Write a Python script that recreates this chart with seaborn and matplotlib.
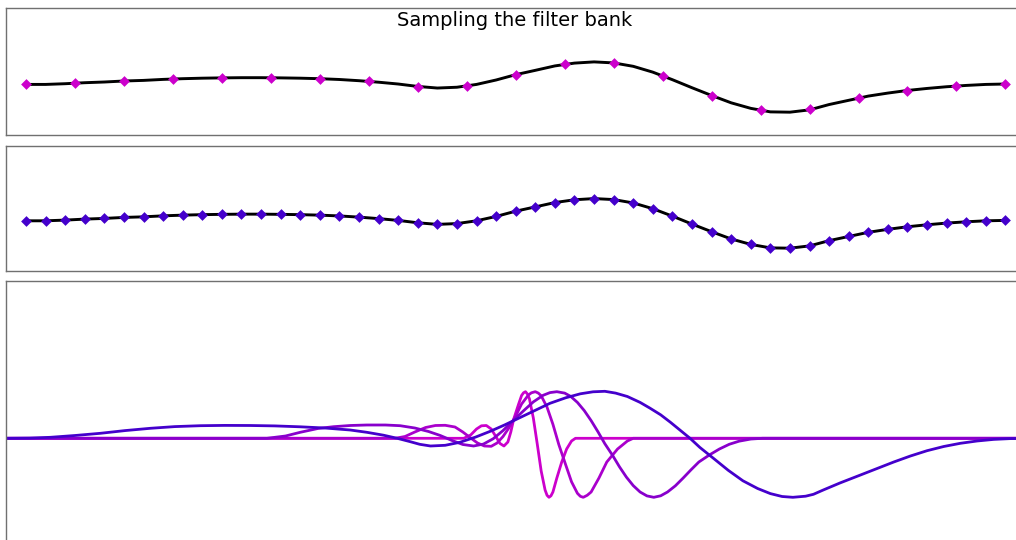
import matplotlib
matplotlib.use('Agg')
import matplotlib.pyplot as plt
import seaborn as sns
import numpy as np

# signal sampled at 51 points (middle panel) and 21 points (top panel)
signal_x = np.linspace(0, 1, 51)
signal_y = [-0.004, -0.004, 0.010, 0.030, 0.044, 0.064, 0.076, 0.096, 0.110, 0.120,
            0.126, 0.130, 0.130, 0.126, 0.120, 0.110, 0.094, 0.070, 0.040, 0.004,
            -0.044, -0.076, -0.060, -0.004, 0.084, 0.190, 0.276, 0.364, 0.420, 0.444,
            0.424, 0.356, 0.240, 0.090, -0.070, -0.224, -0.370, -0.480, -0.550, -0.556,
            -0.510, -0.404, -0.320, -0.236, -0.176, -0.124, -0.084, -0.050, -0.024, -0.004,
            0.004]

coarse_x = np.linspace(0, 1, 21)
coarse_y = [0.004, 0.018, 0.064, 0.104, 0.130, 0.130, 0.104, 0.064, -0.056, -0.036,
            0.178, 0.398, 0.430, 0.158, -0.230, -0.516, -0.496, -0.282, -0.130, -0.030,
            0.004]

# filter bank, narrowest to widest
f1_x = [-0.03, 0.438, 0.447, 0.454, 0.460, 0.465, 0.470, 0.475, 0.480, 0.484, 0.488,
        0.492, 0.495, 0.498, 0.503, 0.506, 0.508, 0.510, 0.512, 0.514, 0.518, 0.522,
        0.526, 0.530, 0.532, 0.534, 0.536, 0.538, 0.542, 0.547, 0.552, 0.557, 0.561, 1.03]
f1_y = [0.0, 0.0, 0.0, 0.066, 0.186, 0.250, 0.256, 0.186, 0.026, -0.104, -0.154,
        -0.074, 0.126, 0.386, 0.686, 0.856, 0.910, 0.932, 0.885, 0.790, 0.406, -0.114,
        -0.654, -1.034, -1.140, -1.180, -1.150, -1.074, -0.794, -0.474, -0.214, -0.054, 0.0, 0.0]

f2_x = [-0.03, 0.377, 0.387, 0.397, 0.408, 0.418, 0.428, 0.438, 0.446, 0.454, 0.461,
        0.468, 0.475, 0.481, 0.487, 0.493, 0.500, 0.506, 0.513, 0.516, 0.520, 0.523,
        0.526, 0.532, 0.538, 0.544, 0.551, 0.557, 0.563, 0.566, 0.569, 0.573, 0.577,
        0.585, 0.593, 0.604, 0.614, 0.620, 1.03]
f2_y = [0.0, 0.0, 0.036, 0.126, 0.216, 0.256, 0.260, 0.226, 0.126, 0.006, -0.094,
        -0.154, -0.160, -0.094, 0.034, 0.206, 0.446, 0.686, 0.866, 0.910, 0.932, 0.905,
        0.852, 0.622, 0.280, -0.124, -0.528, -0.870, -1.100, -1.160, -1.180, -1.140, -1.074,
        -0.794, -0.474, -0.214, -0.054, 0.0, 0.0]

f3_x = [-0.03, 0.246, 0.265, 0.280, 0.298, 0.314, 0.331, 0.348, 0.367, 0.382, 0.397,
        0.411, 0.423, 0.435, 0.446, 0.457, 0.467, 0.477, 0.487, 0.497, 0.508, 0.518,
        0.528, 0.535, 0.542, 0.550, 0.556, 0.563, 0.570, 0.577, 0.584, 0.591, 0.599,
        0.606, 0.613, 0.620, 0.627, 0.634, 0.641, 0.648, 0.655, 0.663, 0.671, 0.679,
        0.687, 0.698, 0.708, 0.718, 0.728, 0.740, 0.752, 1.03]
f3_y = [0.0, 0.0, 0.046, 0.120, 0.196, 0.232, 0.256, 0.266, 0.266, 0.252, 0.206,
        0.136, 0.056, -0.044, -0.124, -0.154, -0.116, -0.009, 0.154, 0.348, 0.550, 0.728,
        0.860, 0.914, 0.932, 0.904, 0.840, 0.718, 0.554, 0.354, 0.130, -0.108, -0.344,
        -0.572, -0.776, -0.946, -1.074, -1.152, -1.180, -1.150, -1.074, -0.950, -0.794, -0.630,
        -0.474, -0.330, -0.214, -0.120, -0.058, -0.015, 0.0, 0.0]

f4_x = [-0.03, -0.020, 0.004, 0.025, 0.050, 0.076, 0.101, 0.127, 0.152, 0.178, 0.203,
        0.229, 0.254, 0.280, 0.305, 0.331, 0.348, 0.365, 0.379, 0.392, 0.402, 0.413,
        0.428, 0.443, 0.459, 0.474, 0.489, 0.505, 0.520, 0.535, 0.551, 0.566, 0.579,
        0.591, 0.602, 0.614, 0.627, 0.637, 0.648, 0.658, 0.668, 0.678, 0.688, 0.702,
        0.717, 0.732, 0.747, 0.760, 0.772, 0.783, 0.796, 0.804, 0.814, 0.831, 0.852,
        0.869, 0.886, 0.903, 0.920, 0.937, 0.954, 0.971, 0.988, 1.005, 1.03]
f4_y = [0.0, 0.0, 0.004, 0.020, 0.056, 0.100, 0.154, 0.200, 0.234, 0.252, 0.258,
        0.256, 0.248, 0.230, 0.206, 0.166, 0.120, 0.062, 0.0, -0.066, -0.120, -0.154,
        -0.140, -0.080, 0.024, 0.140, 0.270, 0.420, 0.560, 0.700, 0.810, 0.890, 0.930,
        0.940, 0.904, 0.836, 0.718, 0.604, 0.470, 0.320, 0.160, 0.0, -0.182, -0.402,
        -0.640, -0.850, -1.004, -1.106, -1.164, -1.180, -1.158, -1.120, -1.034, -0.894, -0.734,
        -0.604, -0.474, -0.354, -0.248, -0.164, -0.100, -0.054, -0.022, -0.006, 0.0]

filters = [(f1_x, f1_y), (f2_x, f2_y), (f3_x, f3_y), (f4_x, f4_y)]
filter_colors = ['#cc00cc', '#aa00cc', '#8800cc', '#4400cc']

title = 'Sampling the filter bank'

sns.set_style('white')
plt.rcParams['font.family'] = ['DejaVu Sans']

fig = plt.figure(figsize=(10.16, 5.4), dpi=100)
W, H = 1016.0, 540.0
left = 6.3 / W
width = (1025.5 - 6.3) / W

ax1 = fig.add_axes([left, 1 - 135.0 / H, width, (135.0 - 8.3) / H])
ax2 = fig.add_axes([left, 1 - 270.7 / H, width, (270.7 - 145.7) / H])
ax3 = fig.add_axes([left, 1 - 595.0 / H, width, (595.0 - 281.3) / H])

# top: coarse sampling
sns.lineplot(x=signal_x, y=signal_y, ax=ax1, color='black', lw=2.1, sort=False, estimator=None)
sns.scatterplot(x=coarse_x, y=coarse_y, ax=ax1, color=filter_colors[0], marker='D',
                s=30, linewidth=0, zorder=3)

# middle: fine sampling
sns.lineplot(x=signal_x, y=signal_y, ax=ax2, color='black', lw=2.1, sort=False, estimator=None)
sns.scatterplot(x=signal_x, y=signal_y, ax=ax2, color=filter_colors[3], marker='D',
                s=30, linewidth=0, zorder=3)

# bottom: the filter bank
for (fx, fy), c in zip(filters, filter_colors):
    sns.lineplot(x=fx, y=fy, ax=ax3, color=c, lw=2.0, sort=False, estimator=None)

for ax in (ax1, ax2, ax3):
    ax.set_xlim(-0.0201, 1.0205)
    ax.set_xticks([])
    ax.set_yticks([])
    for sp in ax.spines.values():
        sp.set_color('#707070')
        sp.set_linewidth(1.0)

ax1.set_ylim(-1.01, 1.51)
ax2.set_ylim(-1.01, 1.51)
ax3.set_ylim(-3.134, 3.14)

fig.text(515.0 / W, 1 - 20.0 / H, title, ha='center', va='center', fontsize=14, color='black')

fig.savefig('out.png', dpi=100, facecolor='white')
